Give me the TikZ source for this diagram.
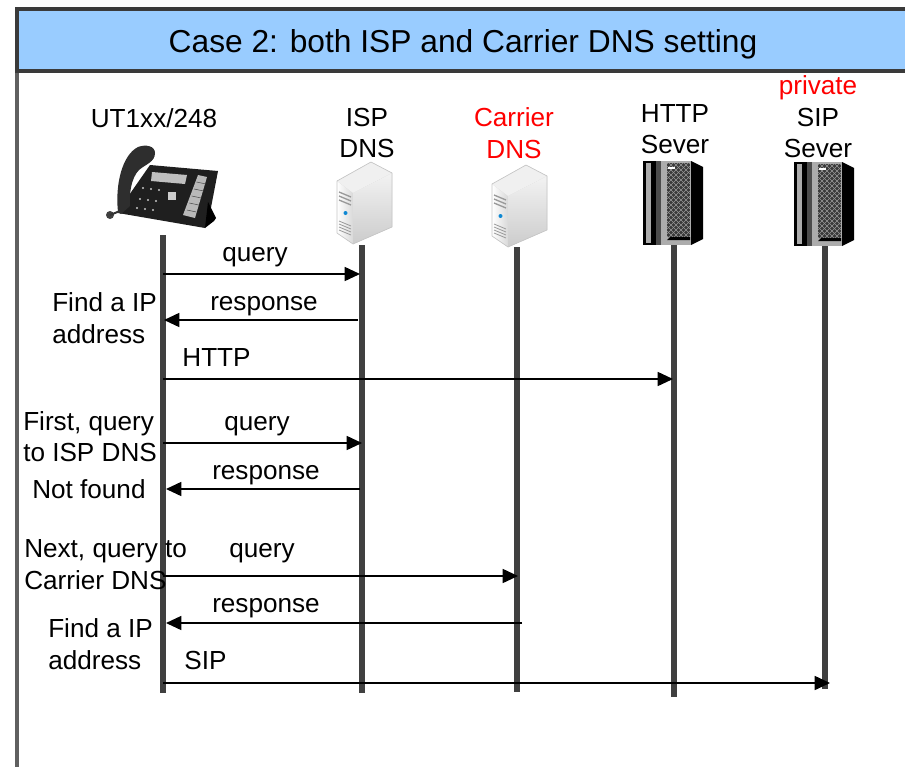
\documentclass[tikz,border=0pt]{standalone}
\usepackage{fontspec}
\setmainfont{Liberation Sans}
\usetikzlibrary{arrows.meta}
\definecolor{framegray}{HTML}{3A3A3A}
\definecolor{titleblue}{HTML}{99CCFF}
\definecolor{lifegray}{HTML}{404040}
\tikzset{
	lbl/.style={inner sep=0pt, align=left, font=\fontsize{19.6}{23.6}\selectfont},
	lblc/.style={lbl, align=center},
	msg/.style={-{Triangle[length=11.5pt,width=10.5pt]}, line width=1.2pt, black},
	life/.style={line width=3.8pt, lifegray},
	pics/tower/.style={code={
		\fill[gray!45] (1,19) -- (35,0) -- (56,11) -- (56,65) -- (17,82) -- (1,71) -- cycle;
		\shade[left color=white, right color=gray!30] (1,19) -- (17,31) -- (17,82) -- (1,71) -- cycle;
		\shade[top color=gray!10, bottom color=gray!40] (17,31) -- (56,11) -- (56,65) -- (17,82) -- cycle;
		\fill[gray!12] (1,19) -- (35,0) -- (56,11) -- (17,31) -- cycle;
		\draw[gray!45, line width=.5pt, line join=round] (1,19) -- (35,0) -- (56,11) -- (56,65) -- (17,82) -- (1,71) -- cycle;
		\foreach \yy in {30,34,38} \draw[gray!80, line width=1pt] (3,\yy) -- (15,\yy+5);
		\foreach \yy in {59,62,65,68} \draw[gray!80, line width=.6pt] (3,\yy) -- (15,\yy+5);
		\fill[cyan!70!blue] (9.5,51) circle (2);
	}},
	pics/rack/.style={code={
		\fill[black] (0,0) rectangle (14,84);
		\fill[gray!65] (3,2) rectangle (8,82);
		\fill[gray!60!black] (13,0) rectangle (18,84);
		\fill[gray!65] (18,0) rectangle (48,84);
		\fill[black] (48,0) -- (60,6) -- (60,78) -- (48,84) -- cycle;
		\fill[gray!45!black] (24,2) rectangle (47,76);
		\begin{scope}
			\clip (24,2) rectangle (47,76);
			\foreach \yy in {-20,-15,...,80} {
				\draw[gray!80, line width=.35pt] (24,\yy) -- (47,\yy+23);
				\draw[gray!80, line width=.35pt] (24,\yy+23) -- (47,\yy);
			}
		\end{scope}
		\fill[white] (25,6) rectangle (32,8);
		\fill[black] (24,79) -- (27,76) -- (47,76) -- (47,79) -- cycle;
	}},
}
\begin{document}
\begin{tikzpicture}[x=0.75pt, y=-0.75pt, line cap=butt, >=Latex]
	\useasboundingbox (0,0) rectangle (905,767);
	
	%========================
	% Frame and title
	%========================
	\draw[line width=2.6pt, gray!75!black] (17,71) -- (17,767);
	\fill[titleblue] (17,9) rectangle (905,71);
	\draw[line width=2.6pt, framegray] (905,9) -- (17,9) -- (17,71) -- (905,71);
	\node[inner sep=0pt, font=\fontsize{23.8}{28}\selectfont] (title) at (463,44) {Case 2: both ISP and Carrier DNS setting};
	
	%========================
	% Lifelines
	%========================
	\foreach \name/\xx/\ytop/\ybot in {ua/163/235/693, isp/362/245/693, car/517/247/692, http/674/243/697, sip/825/243/689} {
		\coordinate (\name top) at (\xx,\ytop);
		\coordinate (\name bot) at (\xx,\ybot);
		\draw[life] (\name top) -- (\name bot);
	}
	
	%========================
	% Endpoints
	%========================
	\node[lblc] (ualbl) at (154,118) {UT1xx/248};
	\node[lblc] (isplbl) at (367,133) {ISP\\DNS};
	\node[lblc, red] (carlbl) at (514,133) {Carrier\\DNS};
	\node[lblc] (httplbl) at (675,129) {HTTP\\Sever};
	\node[lblc, red] (privlbl) at (818,88) {private};
	\node[lblc] (siplbl) at (818,133) {SIP\\Sever};
	
	% phone
	\fill[black!88] (150,165) -- (218,171) -- (209,218) -- (205,228) -- (118,213) -- (127,198) -- cycle;
	\fill[black] (208,202) -- (216,218) -- (214,221) -- (205,228) -- cycle;
	\fill[black!82] (118,212) .. controls (115,185) and (122,155) .. (138,147)
		.. controls (146,144) and (155,146) .. (155,153)
		.. controls (155,162) and (146,164) .. (139,170)
		.. controls (131,178) and (129,195) .. (130,206) -- (121,214) -- cycle;
	\fill[black!75] (110,215) circle (4);
	\draw[black!80, line width=1.5pt] (110,215) -- (120,211);
	\fill[gray!50] (152,172) -- (187,175) -- (185,184) -- (151,181) -- cycle;
	\fill[gray!55] (198,175) -- (207,177) -- (195,218) -- (183,215) -- cycle;
	\foreach \yy in {0,1,...,4}
		\draw[black!70, line width=.4pt] (196.5-2.4*\yy,182+7*\yy) -- (206-2.4*\yy,184+7*\yy);
	\foreach \xx/\yy in {143/188, 151/189, 159/190, 140/199, 148/200, 156/201, 137/208, 145/209, 153/210}
		\fill[gray!45] (\xx,\yy) circle (1.2);
	\fill[gray!40] (168,192) rectangle (176,200);
	
	% servers
	\pic at (336,162) {tower};
	\pic at (491,165) {tower};
	\pic at (643,161) {rack};
	\pic at (794,162) {rack};
	
	%========================
	% Messages
	%========================
	\coordinate (a1) at (163,274);  \coordinate (b1) at (360,274);
	\coordinate (a2) at (358,320);  \coordinate (b2) at (164,320);
	\coordinate (a3) at (163,379);  \coordinate (b3) at (673,379);
	\coordinate (a4) at (163,443);  \coordinate (b4) at (362,443);
	\coordinate (a5) at (360,489);  \coordinate (b5) at (166,489);
	\coordinate (a6) at (163,576);  \coordinate (b6) at (518,576);
	\coordinate (a7) at (522,623);  \coordinate (b7) at (166,623);
	\coordinate (a8) at (163,683);  \coordinate (b8) at (830,683);
	\foreach \i in {1,...,8}
		\draw[msg] (a\i) -- (b\i);
	
	\node[lblc] (m1) at (255,257) {query};
	\node[lblc] (m2) at (264,306) {response};
	\node[lblc] (m3) at (216.5,358) {HTTP};
	\node[lblc] (m4) at (257,426) {query};
	\node[lblc] (m5) at (266,475) {response};
	\node[lblc] (m6) at (262,553) {query};
	\node[lblc] (m7) at (266,608) {response};
	\node[lblc] (m8) at (205.5,660) {SIP};
	
	% side notes
	\node[lbl, anchor=west] (n1) at (52,318) {Find a IP\\address};
	\node[lbl, anchor=west] (n2) at (23,436.5) {First, query\\to ISP DNS};
	\node[lbl, anchor=west] (n3) at (32,489) {Not found};
	\node[lbl, anchor=west] (n4) at (24,564.5) {Next, query to\\Carrier DNS};
	\node[lbl, anchor=west] (n5) at (48,644) {Find a IP\\address};
\end{tikzpicture}
\end{document}
